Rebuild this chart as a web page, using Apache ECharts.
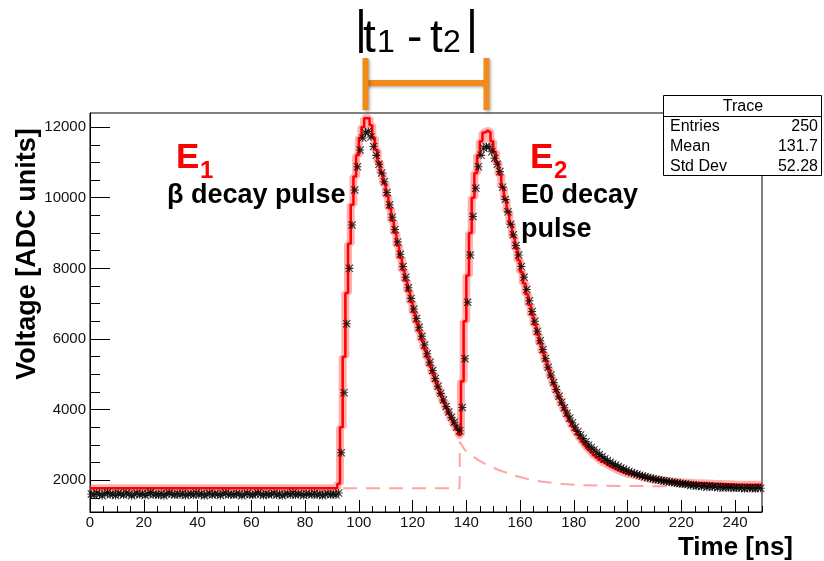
<!DOCTYPE html>
<html>
<head>
<meta charset="utf-8">
<title>Trace</title>
<script src="https://cdn.jsdelivr.net/npm/echarts@6.0.0/dist/echarts.min.js"></script>
<style>
html,body{margin:0;padding:0;background:#fff;}
#main{width:824px;height:561px;}
</style>
</head>
<body>
<div id="main"></div>
<script>
var FONT = "'Liberation Sans', Arial, Helvetica, sans-serif";

// trace samples, one per 1 ns bin (bin 0 .. 249)
var traceValues = [
    1610, 1580, 1640, 1600, 1560, 1620, 1650, 1590, 1610, 1570,
    1630, 1600, 1580, 1640, 1610, 1560, 1600, 1630, 1590, 1620,
    1570, 1610, 1650, 1590, 1600, 1580, 1620, 1560, 1610, 1640,
    1600, 1580, 1620, 1590, 1630, 1570, 1600, 1610, 1580, 1640,
    1590, 1620, 1560, 1600, 1630, 1580, 1610, 1600, 1570, 1620,
    1640, 1590, 1600, 1580, 1620, 1610, 1560, 1600, 1630, 1590,
    1580, 1610, 1640, 1600, 1570, 1620, 1590, 1600, 1630, 1580,
    1610, 1560, 1600, 1620, 1590, 1640, 1580, 1610, 1600, 1570,
    1620, 1600, 1590, 1630, 1580, 1610, 1560, 1600, 1620, 1590,
    1610, 1580, 1640, 2780, 4480, 6430, 8000, 9230, 10220, 10880,
    11350, 11690, 11840, 11880, 11720, 11450, 11200, 10950, 10700, 10450,
    10150, 9800, 9450, 9100, 8750, 8400, 8050, 7750, 7450, 7150,
    6850, 6580, 6330, 6080, 5830, 5580, 5340, 5110, 4880, 4660,
    4460, 4270, 4090, 3930, 3780, 3640, 3510, 3400, 4060, 5440,
    7040, 8380, 9470, 10270, 10880, 11200, 11400, 11450, 11440, 11300,
    11120, 10950, 10740, 10300, 9950, 9600, 9250, 8950, 8650, 8380,
    8050, 7750, 7400, 7080, 6780, 6500, 6220, 5950, 5700, 5450,
    5200, 4980, 4770, 4570, 4380, 4210, 4050, 3900, 3760, 3630,
    3500, 3380, 3280, 3180, 3090, 3000, 2930, 2860, 2790, 2730,
    2670, 2610, 2560, 2510, 2470, 2430, 2390, 2350, 2320, 2280,
    2250, 2220, 2190, 2170, 2140, 2120, 2100, 2080, 2060, 2040,
    2020, 2010, 1990, 1980, 1970, 1950, 1940, 1930, 1920, 1910,
    1900, 1890, 1880, 1850, 1870, 1830, 1860, 1820, 1850, 1800,
    1840, 1810, 1830, 1790, 1820, 1780, 1810, 1790, 1800, 1770,
    1800, 1780, 1790, 1760, 1790, 1770, 1780, 1760, 1790, 1770
];

// fitted two-pulse model, drawn as histogram steps (left bin edge -> content)
var fitEdges = [
    0, 92, 93, 94, 95, 96, 97, 98, 99,
    100, 101, 102, 103, 104, 105, 106, 107, 108, 109,
    110, 111, 112, 113, 114, 115, 116, 117, 118, 119,
    120, 121, 122, 123, 124, 125, 126, 127, 128, 129,
    130, 131, 132, 133, 134, 135, 136, 137, 138, 139,
    140, 141, 142, 143, 144, 145, 146, 147, 148, 149,
    150, 151, 152, 153, 154, 155, 156, 157, 158, 159,
    160, 161, 162, 163, 164, 165, 166, 167, 168, 169,
    170, 171, 172, 173, 174, 175, 176, 177, 178, 179,
    180, 181, 182, 183, 184, 185, 186, 187, 188, 189,
    190, 191, 192, 193, 194, 195, 196, 197, 198, 199,
    200, 202, 204, 206, 208, 210, 213, 216, 220, 225, 232, 240, 250
];
var fitValues = [
    1770, 1900, 3500, 5500, 7300, 8700, 9800, 10600, 11200,
    11700, 12000, 12250, 12250, 12050, 11700, 11350, 11000, 10700, 10400,
    10050, 9700, 9350, 9000, 8650, 8300, 7950, 7650, 7350, 7050,
    6750, 6480, 6220, 5970, 5720, 5480, 5250, 5030, 4810, 4610,
    4410, 4220, 4050, 3880, 3730, 3580, 3440, 3280, 4800, 6500,
    7800, 9000, 10000, 10700, 11200, 11600, 11850, 11900, 11850, 11600,
    11300, 11000, 10650, 10300, 9950, 9600, 9250, 8900, 8560, 8230,
    7900, 7580, 7270, 6970, 6680, 6400, 6130, 5870, 5620, 5380,
    5150, 4930, 4720, 4520, 4330, 4150, 3980, 3820, 3670, 3530,
    3400, 3280, 3170, 3060, 2960, 2870, 2790, 2710, 2640, 2580,
    2520, 2470, 2420, 2380, 2340, 2300, 2270, 2240, 2210, 2180,
    2160, 2120, 2080, 2050, 2020, 2000, 1970, 1940, 1920, 1900, 1880, 1870, 1870
];

// single pulse component (dashed)
var compTimes = [0, 137.5, 137.6, 139.5, 142, 144.5, 147, 149.5, 152, 155, 158, 161, 164, 170, 176, 183, 190, 200, 215, 250];
var compValues = [1770, 1770, 3090, 2850, 2700, 2570, 2460, 2380, 2290, 2210, 2130, 2070, 2010, 1940, 1890, 1860, 1845, 1835, 1830, 1830];

var yMajorTicks = [2000, 4000, 6000, 8000, 10000, 12000];
var yMinorTicks = [1500, 2500, 3000, 3500, 4500, 5000, 5500, 6500, 7000, 7500, 8500, 9000, 9500, 10500, 11000, 11500];

var statsTitle = 'Trace';
var statsRows = [['Entries', '250'], ['Mean', '131.7'], ['Std Dev', '52.28']];

// pulse times marked by the bracket
var t1 = 102.5, t2 = 147.5;

var STAR = 'path://M0,4.35L10,4.35L10,5.65L0,5.65Z M4.35,0L5.65,0L5.65,10L4.35,10Z M0.9,0L10,9.1L9.1,10L0,0.9Z M9.1,0L10,0.9L0.9,10L0,9.1Z';

function pairs(xs, ys) {
    var out = [];
    for (var i = 0; i < xs.length; i++) {
        out.push([xs[i], ys[i]]);
    }
    return out;
}

var traceData = [];
for (var i = 0; i < traceValues.length; i++) {
    traceData.push([i + 0.5, traceValues[i]]);
}
var fitData = pairs(fitEdges, fitValues);
var compData = pairs(compTimes, compValues);

function txt(x, y, s, size, o) {
    o = o || {};
    return {
        type: 'text', z: 100, x: x, y: y, rotation: o.rot || 0,
        style: {
            text: s, x: 0, y: 0,
            font: (o.bold ? 'bold ' : '') + size + 'px ' + FONT,
            fill: o.color || '#000',
            textAlign: o.align || 'left', align: o.align || 'left',
            textVerticalAlign: 'middle', verticalAlign: 'middle'
        }
    };
}

function plain(v) {
    return String(v);
}

var opt = {
    animation: false,
    backgroundColor: '#fff',
    grid: {left: 90, right: 62, top: 113, bottom: 49, show: true, borderColor: '#000', borderWidth: 1},
    xAxis: [{
        type: 'value', min: 0, max: 250, interval: 20, position: 'bottom',
        axisLine: {lineStyle: {color: '#000', width: 1}},
        axisTick: {inside: true, length: 12, lineStyle: {color: '#000'}},
        axisLabel: {showMaxLabel: false, margin: 3, color: '#111', fontFamily: FONT, fontSize: 15, formatter: plain},
        splitLine: {show: false}
    }, {
        type: 'value', min: 0, max: 250, interval: 5, position: 'bottom',
        axisLine: {show: false},
        axisTick: {inside: true, length: 6, lineStyle: {color: '#000'}},
        axisLabel: {show: false},
        splitLine: {show: false}
    }],
    yAxis: [{
        type: 'value', min: 1100, max: 12400, position: 'left',
        axisLine: {show: true, lineStyle: {color: '#000', width: 1}},
        axisTick: {inside: true, length: 20, customValues: yMajorTicks, lineStyle: {color: '#000'}},
        axisLabel: {customValues: yMajorTicks, margin: 4, color: '#111', fontFamily: FONT, fontSize: 15, formatter: plain},
        splitLine: {show: false}
    }, {
        type: 'value', min: 1100, max: 12400, position: 'left',
        axisLine: {show: false},
        axisTick: {inside: true, length: 10, customValues: yMinorTicks, lineStyle: {color: '#000'}},
        axisLabel: {show: false},
        splitLine: {show: false}
    }],
    series: [{
        type: 'line', name: 'component', data: compData, symbol: 'none', z: 1, silent: true,
        lineStyle: {width: 2, color: 'rgba(255,105,105,0.6)', type: [14, 9]}
    }, {
        type: 'line', name: 'band', data: fitData, step: 'end', symbol: 'none', z: 2, silent: true,
        lineStyle: {width: 8, color: 'rgba(255,80,80,0.45)'}
    }, {
        type: 'line', name: 'fit', data: fitData, step: 'end', symbol: 'none', z: 3,
        lineStyle: {width: 2.5, color: '#ff0000'}
    }, {
        type: 'scatter', name: 'Trace', data: traceData, symbol: STAR, symbolSize: 8, z: 4,
        itemStyle: {color: '#000'}
    }]
};

var chart = echarts.init(document.getElementById('main'));
chart.setOption(opt);

// annotations
var px1 = chart.convertToPixel({xAxisIndex: 0}, t1);
var px2 = chart.convertToPixel({xAxisIndex: 0}, t2);
var orange = {stroke: '#f28b1c', lineWidth: 6, shadowBlur: 3, shadowColor: 'rgba(0,0,0,0.3)', shadowOffsetX: 1.5, shadowOffsetY: 1.5};

var g = [
    {type: 'line', z: 90, shape: {x1: px1, y1: 83, x2: px2, y2: 83}, style: orange},
    {type: 'line', z: 90, shape: {x1: px1, y1: 58, x2: px1, y2: 110}, style: orange},
    {type: 'line', z: 90, shape: {x1: px2, y1: 58, x2: px2, y2: 110}, style: orange},

    txt(355, 30, '|', 46),
    txt(363, 39, 't', 46),
    txt(377, 43, '1', 32),
    txt(407, 39, '-', 46),
    txt(430, 39, 't', 46),
    txt(443, 43, '2', 32),
    txt(466, 30, '|', 46),

    txt(176, 158, 'E', 35, {bold: true, color: '#ff0000'}),
    txt(200, 171, '1', 24, {bold: true, color: '#ff0000'}),
    txt(167, 196, 'β decay pulse', 27, {bold: true}),
    txt(530, 158, 'E', 35, {bold: true, color: '#ff0000'}),
    txt(554, 171, '2', 24, {bold: true, color: '#ff0000'}),
    txt(521, 196, 'E0 decay', 27, {bold: true}),
    txt(521, 230, 'pulse', 27, {bold: true}),

    txt(28, 254, 'Voltage [ADC units]', 27, {bold: true, align: 'center', rot: Math.PI / 2}),
    txt(793, 548, 'Time [ns]', 26, {bold: true, align: 'right'}),

    {type: 'rect', z: 95, shape: {x: 663.5, y: 95.5, width: 158, height: 80}, style: {fill: '#fff', stroke: '#000', lineWidth: 1}},
    {type: 'line', z: 96, shape: {x1: 663.5, y1: 116.5, x2: 821.5, y2: 116.5}, style: {stroke: '#000', lineWidth: 1}},
    txt(743, 107, statsTitle, 16, {align: 'center'})
];
for (var r = 0; r < statsRows.length; r++) {
    g.push(txt(670, 127 + r * 20, statsRows[r][0], 16));
    g.push(txt(818, 127 + r * 20, statsRows[r][1], 16, {align: 'right'}));
}
chart.setOption({graphic: {elements: g}});
</script>
</body>
</html>
